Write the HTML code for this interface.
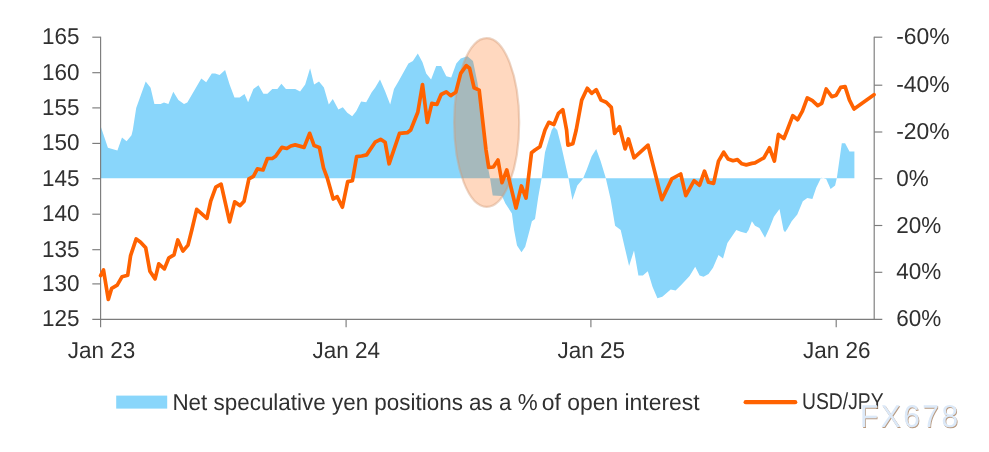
<!DOCTYPE html>
<html><head><meta charset="utf-8"><title>Chart</title>
<style>html,body{margin:0;padding:0;background:#fff}body{width:989px;height:452px;overflow:hidden}</style>
</head><body>
<svg width="989" height="452" viewBox="0 0 989 452" style="display:block">
<rect width="989" height="452" fill="#fff"/>
<path d="M100.5,178.35 L100.5,125.7 107.9,147.8 117.4,150.4 122,137.5 126.6,141.3 131.5,135.3 132.8,130.1 136.2,107.9 145.7,81.6 150.6,87.8 154.4,103.9 160.6,103.9 164,102.5 168.4,103.9 173.3,91.8 178.4,100.1 184,104.1 187.3,102.5 201.3,78.5 206.2,82.3 211.8,73.4 215.1,73.4 219.6,74.9 225.1,70 229.6,84.5 234.5,97.4 239.6,97.4 244.5,94.1 248.1,102.3 253.4,89 258.5,85.2 263.4,93.8 267.4,93.8 272.3,89 277.4,89 281.4,83.8 285.9,89 295.2,89 300.1,91.6 305.2,84.5 310.1,68.3 314.1,84.5 319,81.6 323.9,87.4 328.8,104.5 332.8,99 338.4,109.6 342.8,107.2 347.3,112.8 352.2,116.3 356.2,111.2 361.1,101.6 366.2,102.3 371.7,92.3 375.1,87.8 380,79.4 385.1,91.2 390.2,104.5 394,89 398.4,81.6 408.4,63.4 412.9,61.1 417.8,53.4 422.5,62.3 426.2,73.4 431.1,79.4 436.2,66 441.1,66 446.3,76.3 451.2,77.4 456.3,63.4 460.7,58.5 467.4,56.3 473,61.1 477.4,82.3 480.7,103.4 483,130.1 484.7,150 490,178 492.7,195.4 502,196 505.4,203.4 511.9,213.4 514.1,230.1 517,245.6 521.5,252.2 525.2,246.7 529.7,230 531.9,221.2 535,219 538.3,196.7 541.7,177.8 545,152.2 551.7,130 553.9,126.8 557.2,130 561.7,147.8 568.4,177.8 572.4,200.1 577.3,185.6 582.8,178.9 586.6,170 591.7,156.3 596.2,148.9 600.6,161.1 605.7,177.8 610.6,199 615.1,225.7 620.7,230.1 625.1,248.9 629.1,266 634,250.5 638.4,275.6 642.9,275.6 647.8,271.2 652.5,286.7 657.4,298.3 662.3,296.7 670.7,289.6 675.6,290.5 680.7,285.6 689.6,276.1 695.2,266.7 699.6,275.6 703.6,276.7 708.5,274 713,267.8 718.5,254.9 723,258.5 727.4,242.9 736.3,230 740.8,231.8 746.3,233.3 748.6,230 751.9,221.2 755,225.7 759.4,227.9 765,237.8 769.5,227.9 773.9,216.8 779.5,209 783.5,230.1 785,232.2 787.3,229 791.7,221.2 797.3,214.5 802.8,201.2 807.3,197.9 812.4,199 816.2,187.8 821.1,177.8 826.2,178.9 830.6,189 835.1,185.6 836.9,177.8 841.8,143.3 845.1,143.3 849.5,151.6 854.4,151.6 L854.4,178.35 Z" fill="#89d6fb"/>
<g stroke="#7c7c7c" stroke-width="1.15" fill="none">
<path d="M100.6,36.7 V327.3"/>
<path d="M92.3,319.4 H882.3"/>
<path d="M874.2,36.7 V319.4"/>
<path d="M92.3,37.2 H100.6"/>
<path d="M92.3,72.7 H100.6"/>
<path d="M92.3,107.9 H100.6"/>
<path d="M92.3,143.4 H100.6"/>
<path d="M92.3,178.7 H100.6"/>
<path d="M92.3,214.2 H100.6"/>
<path d="M92.3,249.7 H100.6"/>
<path d="M92.3,283.9 H100.6"/>
<path d="M874.2,37.2 H882.3"/>
<path d="M874.2,85.2 H882.3"/>
<path d="M874.2,132.0 H882.3"/>
<path d="M874.2,178.7 H882.3"/>
<path d="M874.2,225.5 H882.3"/>
<path d="M874.2,272.3 H882.3"/>
<path d="M346.1,319.4 V327.3"/>
<path d="M590.9,319.4 V327.3"/>
<path d="M836.2,319.4 V327.3"/>
</g>
<ellipse cx="486.7" cy="122.5" rx="32.5" ry="84.4" fill="#ff6200" fill-opacity="0.25" stroke="#d29a78" stroke-opacity="0.42" stroke-width="2.2"/>
<path d="M100.6,275.6 103.5,270 108.3,299.4 111.7,288.3 117.2,285.2 122.1,276.7 127.7,275.2 130.6,255.6 136.2,238.9 140.6,242.2 145.7,247.8 149.9,271.2 155.1,278.9 158.8,263.8 164.4,268.9 168.9,257.8 174,254.9 177.8,240 182.9,251.1 188,245.1 191.8,230 196.7,209.4 206.9,218.3 210.7,201.2 215.8,187.2 221.1,184.1 229.6,221.9 234.7,201.9 240.1,205.6 244.1,201.2 248.9,178.9 253.4,176.3 257.4,168.9 263,170 267.4,158.5 272.3,158.5 275.6,156.3 281.9,147.4 286.8,148.5 290.8,146 295.2,144.9 304.1,147.4 309.7,133.3 314.1,145.6 319.4,147.4 323.5,167.8 327.2,177.8 333.2,199 337.2,196.7 342.4,207.2 347.7,181.6 352.4,180.7 356.6,156.7 361.7,156 366.6,154.9 375.1,142.2 380.6,139.3 385.1,142.2 389.1,163.8 399.5,133.3 407.3,132.7 410.7,130 417.8,112.3 422.5,84.5 427.3,122.3 431.8,103.4 436.9,104.5 441.1,94.5 446.3,91.8 450.7,95.6 455.8,92.3 460.7,73.4 466.3,65.6 469.6,68.3 474.1,87.8 479.2,90.1 486,150 488.7,167.4 493.4,167 498,160 502,182.7 506.8,170 516,208 521.4,186 526,198 531.5,152.7 535,150 539.9,146.7 545,130 548.8,122.3 553.9,124.5 558.4,113.4 562.8,109.6 566.6,130.1 567.9,145.1 572.8,143.8 576.2,130 581.7,100.1 587.3,88.3 591.7,93.4 596.2,89.6 601.1,100.1 606.2,102.3 611.3,107.4 614.6,133.4 619.5,126.8 625.1,148.9 628.4,138.9 634,157.8 648,145.1 661.8,199.6 671.8,178.9 680.7,174 685.8,195.6 694.1,180.7 699.6,185.2 704.5,171.2 708.5,182.3 713.6,183.4 718.5,161.1 723.7,152.2 728.1,158.9 733,160.7 737.4,159.6 741.9,163.8 746.3,164.9 751.9,163.4 755,162.9 763.9,157.8 769.5,147.8 774.4,161.1 778.4,134.4 783.9,138.5 787.3,130 792.8,115.7 797.7,119.7 802.4,111.2 807.3,97.9 812.4,100.7 817.7,105.6 821.7,103.4 826.2,89 831.8,96.7 836.2,95.2 840.7,87.4 845.1,86.7 849.5,100.1 854,109 874,94.7" fill="none" stroke="#ff6200" stroke-width="3.7" stroke-linejoin="round" stroke-linecap="round"/>
<g font-family="'Liberation Sans', sans-serif" font-size="23" fill="#303030" text-rendering="geometricPrecision">
<text transform="translate(79.5,44.2) scale(0.978,1)" text-anchor="end">165</text>
<text transform="translate(79.5,79.7) scale(0.978,1)" text-anchor="end">160</text>
<text transform="translate(79.5,114.9) scale(0.978,1)" text-anchor="end">155</text>
<text transform="translate(79.5,150.4) scale(0.978,1)" text-anchor="end">150</text>
<text transform="translate(79.5,185.7) scale(0.978,1)" text-anchor="end">145</text>
<text transform="translate(79.5,221.2) scale(0.978,1)" text-anchor="end">140</text>
<text transform="translate(79.5,256.7) scale(0.978,1)" text-anchor="end">135</text>
<text transform="translate(79.5,290.9) scale(0.978,1)" text-anchor="end">130</text>
<text transform="translate(79.5,326.4) scale(0.978,1)" text-anchor="end">125</text>
<text transform="translate(896.2,44.2) scale(0.995,1)">-60%</text>
<text transform="translate(896.2,92.2) scale(0.995,1)">-40%</text>
<text transform="translate(896.2,139) scale(0.995,1)">-20%</text>
<text transform="translate(896.2,185.7) scale(0.978,1)">0%</text>
<text transform="translate(896.2,232.5) scale(0.978,1)">20%</text>
<text transform="translate(896.2,279.3) scale(0.978,1)">40%</text>
<text transform="translate(896.2,326.4) scale(0.978,1)">60%</text>
<text transform="translate(101.5,357.6) scale(0.978,1)" text-anchor="middle">Jan 23</text>
<text transform="translate(346.3,357.6) scale(0.978,1)" text-anchor="middle">Jan 24</text>
<text transform="translate(591.3,357.6) scale(0.978,1)" text-anchor="middle">Jan 25</text>
<text transform="translate(836.8,357.6) scale(0.978,1)" text-anchor="middle">Jan 26</text>
<text transform="translate(172.4,409.6) scale(0.975,1)">Net speculative yen positions as a %</text>
<text transform="translate(541.8,409.6) scale(0.995,1)">of open interest</text>
<text transform="translate(802,409.3) scale(0.84,1)">USD/JPY</text>
</g>
<rect x="116.2" y="395.6" width="51" height="13" fill="#89d6fb"/>
<path d="M745.7,402.2 H795.2" stroke="#ff6200" stroke-width="4.3" stroke-linecap="round"/>
<g font-family="'Liberation Sans', sans-serif" font-size="31.5" letter-spacing="2.63" text-rendering="geometricPrecision">
<text transform="translate(860.7,427.7) scale(0.95,1)" fill="#b89a80">FX678</text>
<text transform="translate(859.9,426.8) scale(0.95,1)" fill="#dce9f8">FX678</text>
</g>
</svg>
</body></html>
